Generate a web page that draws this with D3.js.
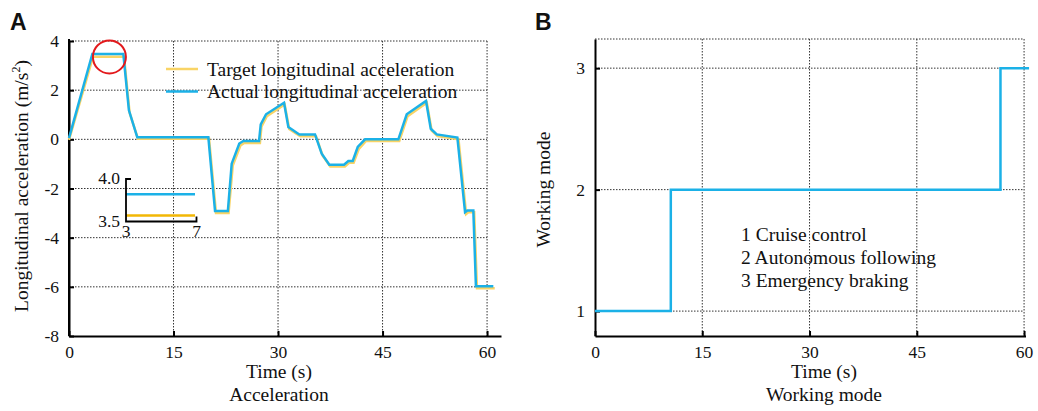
<!DOCTYPE html>
<html>
<head>
<meta charset="utf-8">
<script src="https://cdn.jsdelivr.net/npm/d3@7"></script>
<style>
  body { margin: 0; background: #fff; }
  svg text { font-family: "Liberation Serif", "Times New Roman", serif; fill: #111; }
  .panel-label { font-family: "Liberation Sans", Arial, sans-serif !important; font-weight: bold; }
</style>
</head>
<body>
<svg id="chart" width="1038" height="411"></svg>
<script>
// Panel A: longitudinal acceleration (s, m/s^2)
const time_actual = [0, 3.35, 7.8, 8.6, 9.8, 20.0, 20.96, 22.8, 23.35, 24.44, 25.02, 27.27, 27.52, 28.28, 30.86, 31.48, 33.06, 35.31, 36.27, 37.36, 39.47, 40.09, 40.72, 41.44, 42.49, 47.27, 48.47, 51.24, 51.92, 52.78, 55.74, 56.84, 57.17, 58.03, 58.4, 60.9]
const acc_actual = [0.05, 3.47, 3.47, 1.18, 0.08, 0.08, -2.92, -2.92, -0.99, -0.17, -0.07, -0.07, 0.61, 1.02, 1.49, 0.5, 0.2, 0.2, -0.58, -1.03, -1.03, -0.88, -0.88, -0.31, 0.0, 0.0, 1.02, 1.56, 0.43, 0.2, 0.07, -2.96, -2.89, -2.89, -5.98, -5.98]
const time_target = [0, 3.45, 7.9, 8.7, 9.9, 20.1, 21.1, 22.9, 23.5, 24.6, 25.15, 27.4, 27.62, 28.4, 30.95, 31.6, 33.2, 35.45, 36.4, 37.5, 39.6, 40.2, 40.85, 41.6, 42.6, 47.4, 48.6, 51.35, 52.05, 52.9, 55.9, 57.0, 57.3, 58.15, 58.55, 61.1]
const acc_target = [-0.02, 3.36, 3.36, 1.08, 0.02, 0.02, -3.0, -3.0, -1.07, -0.25, -0.15, -0.15, 0.52, 0.94, 1.42, 0.42, 0.13, 0.13, -0.66, -1.1, -1.1, -0.95, -0.95, -0.39, -0.07, -0.07, 0.94, 1.49, 0.35, 0.13, 0.0, -3.04, -2.97, -2.97, -6.06, -6.06]
const acc_ticks_x = [0, 15, 30, 45, 60]
const acc_ticks_y = [4, 2, 0, -2, -4, -6, -8]

// zoomed inset of the circled region
const inset_time = [3, 7]
const inset_actual = [3.82, 3.82]
const inset_target = [3.57, 3.57]

// Panel B: working mode
const mode_time = [0, 10.6, 56.7, 60.7]
const mode_value = [1, 2, 3, 3]
const mode_ticks_x = [0, 15, 30, 45, 60]
const mode_ticks_y = [1, 2, 3]
const mode_notes = ['1 Cruise control', '2 Autonomous following', '3 Emergency braking']

const color_target = '#F9D466'
const color_actual = '#1BB1E7'
const color_inset_target = '#F2B705'
const serif = '"Liberation Serif", "Times New Roman", serif'
const title_size = '19.5px'
const tick_size = '17.5px'

const svg = d3.select('#chart')

function draw_grid(g, x, y, xticks, yticks, x_end) {
  const y_top = y.range()[1]
  const y_bot = y.range()[0]
  const x_left = x.range()[0]
  g.selectAll('.vgrid')
    .data(xticks.filter(d => d !== 0))
    .join('line')
    .attr('x1', d => x(d)).attr('x2', d => x(d))
    .attr('y1', y_top).attr('y2', y_bot)
    .attr('stroke', '#333').attr('stroke-width', 1)
    .attr('stroke-dasharray', '1.5,1.5')
  g.selectAll('.hgrid')
    .data(yticks)
    .join('line')
    .attr('x1', x_left).attr('x2', x_end)
    .attr('y1', d => y(d)).attr('y2', d => y(d))
    .attr('stroke', '#333').attr('stroke-width', 1)
    .attr('stroke-dasharray', '1.5,1.5')
}

function draw_axes(g, x, y, xticks, yticks) {
  const y_bot = y.range()[0]
  const x_left = x.range()[0]
  const fmt = d => String(d)
  const xa = g.append('g')
    .attr('transform', `translate(0,${y_bot})`)
    .call(d3.axisBottom(x).tickValues(xticks).tickFormat(fmt).tickSizeInner(-5).tickSizeOuter(0).tickPadding(10))
  const ya = g.append('g')
    .attr('transform', `translate(${x_left},0)`)
    .call(d3.axisLeft(y).tickValues(yticks).tickFormat(fmt).tickSizeInner(-5).tickSizeOuter(0).tickPadding(10))
  for (let a of [xa, ya]) {
    a.attr('font-family', serif).attr('font-size', tick_size)
    a.select('.domain').attr('stroke', '#000').attr('stroke-width', 2)
    a.selectAll('.tick line').attr('stroke', '#000').attr('stroke-width', 2)
    a.selectAll('.tick text')
      .style('font-family', serif)
      .style('font-size', tick_size)
      .attr('fill', '#111')
  }
}

// ---------- Panel A ----------
const xA = d3.scaleLinear().domain([0, 62]).range([69, 501])
const yA = d3.scaleLinear().domain([-8, 4]).range([336, 41])
const gA = svg.append('g')

draw_grid(gA, xA, yA, acc_ticks_x, acc_ticks_y.filter(d => d > -8), xA(60))
draw_axes(gA, xA, yA, acc_ticks_x, acc_ticks_y)
// left axis reaches a bit above the top grid line
gA.append('line')
  .attr('x1', xA(0)).attr('x2', xA(0))
  .attr('y1', 39).attr('y2', yA(-8))
  .attr('stroke', '#000').attr('stroke-width', 2)

const line_acc = (ts, vs) => d3.line()
  .x((d, i) => xA(ts[i]))
  .y((d, i) => yA(vs[i]))(vs)

gA.append('path')
  .attr('d', line_acc(time_target, acc_target))
  .attr('fill', 'none').attr('stroke', color_target).attr('stroke-width', 2.5)
gA.append('path')
  .attr('d', line_acc(time_actual, acc_actual))
  .attr('fill', 'none').attr('stroke', color_actual).attr('stroke-width', 2.5)

// red circle around the peak
gA.append('circle')
  .attr('cx', xA(5.8)).attr('cy', yA(3.35)).attr('r', 16.5)
  .attr('fill', 'none').attr('stroke', '#E3191C').attr('stroke-width', 2)

// legend
const legend = [
  { label: 'Target longitudinal acceleration', color: color_target },
  { label: 'Actual longitudinal acceleration', color: color_actual }
]
legend.forEach((l, i) => {
  let ly = 69 + i * 22.5
  gA.append('line')
    .attr('x1', 166).attr('x2', 198).attr('y1', ly).attr('y2', ly)
    .attr('stroke', l.color).attr('stroke-width', 2.5)
  gA.append('text')
    .attr('x', 207).attr('y', ly + 6.5)
    .style('font-size', title_size)
    .text(l.label)
})

// inset
const xI = d3.scaleLinear().domain([3, 7]).range([126, 196.5])
const yI = d3.scaleLinear().domain([3.5, 4.0]).range([221.5, 179])
const gI = gA.append('g')
gI.append('path')
  .attr('d', d3.line().x((d, i) => xI(inset_time[i]) - (i ? 1.5 : 0)).y(d => yI(d))(inset_actual))
  .attr('stroke', color_actual).attr('stroke-width', 2.5).attr('fill', 'none')
gI.append('path')
  .attr('d', d3.line().x((d, i) => xI(inset_time[i]) - (i ? 1.5 : 0)).y(d => yI(d))(inset_target))
  .attr('stroke', color_inset_target).attr('stroke-width', 2.5).attr('fill', 'none')
gI.append('path')
  .attr('d', `M${xI(3) + 5},${yI(4)}H${xI(3)}V${yI(3.5)}H${xI(7)}V${yI(3.5) - 5}`)
  .attr('fill', 'none').attr('stroke', '#000').attr('stroke-width', 1.8)
gI.selectAll('.iy').data([4.0, 3.5]).join('text')
  .attr('x', xI(3) - 6).attr('y', d => yI(d) + 5)
  .attr('text-anchor', 'end').style('font-size', tick_size)
  .text(d => d3.format('.1f')(d))
gI.selectAll('.ix').data([3, 7]).join('text')
  .attr('x', d => xI(d)).attr('y', yI(3.5) + 15)
  .attr('text-anchor', 'middle').style('font-size', tick_size)
  .text(d => d)

// titles
gA.append('text')
  .attr('transform', `translate(28,${yA(-1.9)}) rotate(-90)`)
  .attr('text-anchor', 'middle').style('font-size', title_size)
  .html('Longitudinal acceleration (m/s<tspan dy="-8" font-size="12px">2</tspan><tspan dy="8">)</tspan>')
gA.append('text').attr('x', 279).attr('y', 378)
  .attr('text-anchor', 'middle').style('font-size', title_size).text('Time (s)')
gA.append('text').attr('x', 279).attr('y', 401)
  .attr('text-anchor', 'middle').style('font-size', title_size).text('Acceleration')
gA.append('text').attr('class', 'panel-label')
  .attr('x', 10).attr('y', 30).style('font-size', '23px').text('A')

// ---------- Panel B ----------
const xB = d3.scaleLinear().domain([0, 60.2]).range([595, 1025.5])
const yB = d3.scaleLinear().domain([0.795, 3.24]).range([336, 39])
const gB = svg.append('g')

draw_grid(gB, xB, yB, mode_ticks_x, mode_ticks_y, xB(60))
// dotted top border
gB.append('line')
  .attr('x1', xB(0)).attr('x2', xB(60)).attr('y1', yB.range()[1]).attr('y2', yB.range()[1])
  .attr('stroke', '#333').attr('stroke-width', 1).attr('stroke-dasharray', '1.5,1.5')
draw_axes(gB, xB, yB, mode_ticks_x, mode_ticks_y)

gB.append('path')
  .attr('d', d3.line().curve(d3.curveStepAfter)
    .x((d, i) => xB(mode_time[i]))
    .y(d => yB(d))(mode_value))
  .attr('fill', 'none').attr('stroke', color_actual).attr('stroke-width', 2.5)

mode_notes.forEach((t, i) => {
  gB.append('text')
    .attr('x', 741).attr('y', 241 + i * 23)
    .style('font-size', title_size).text(t)
})

gB.append('text')
  .attr('transform', `translate(550,${yB(2)}) rotate(-90)`)
  .attr('text-anchor', 'middle').style('font-size', title_size).text('Working mode')
gB.append('text').attr('x', 824).attr('y', 378)
  .attr('text-anchor', 'middle').style('font-size', title_size).text('Time (s)')
gB.append('text').attr('x', 824).attr('y', 401)
  .attr('text-anchor', 'middle').style('font-size', title_size).text('Working mode')
gB.append('text').attr('class', 'panel-label')
  .attr('x', 535).attr('y', 30).style('font-size', '23px').text('B')
</script>
</body>
</html>
